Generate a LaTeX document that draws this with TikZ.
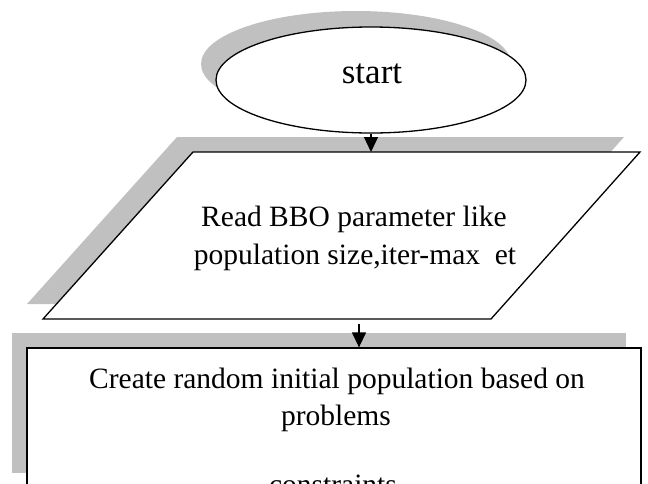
\documentclass[tikz,border=0pt]{standalone}
\usepackage{fontspec}
\setmainfont{Liberation Serif}
\usetikzlibrary{shapes.geometric,arrows.meta}
\definecolor{shadowgray}{RGB}{192,192,192}
\begin{document}
\begin{tikzpicture}[x=1pt,y=-1pt,
 line/.style={line width=1.3pt},
 shadowfill/.style={fill=shadowgray,draw=none},
 arr/.style={line width=1.3pt,-{Triangle[length=15pt,width=14pt]}},
 body/.style={font=\fontsize{29.5}{34}\selectfont, inner sep=0pt, anchor=base},
 ovalshape/.style={ellipse, minimum width=310pt, minimum height=106pt, inner sep=0pt},
 boxshape/.style={rectangle, minimum width=614pt, minimum height=140pt, inner sep=0pt},
]
\clip (0,0) rectangle (648,483);
% start ellipse
\node[ovalshape, shadowfill] (startsh) at (356,64) {};
\node[ovalshape, fill=white, draw, line] (start) at (371,80) {};
\node[font=\fontsize{35}{40}\selectfont, anchor=base, inner sep=0pt] (starttxt) at (372,83) {start};
% parallelogram
\coordinate (pTL) at (193,152);
\coordinate (pTR) at (640,152);
\coordinate (pBR) at (491,319);
\coordinate (pBL) at (43,319);
\fill[shadowgray] ([shift={(-16,-15)}]pTL) -- ([shift={(-16,-15)}]pTR) -- ([shift={(-16,-15)}]pBR) -- ([shift={(-16,-15)}]pBL) -- cycle;
\filldraw[fill=white, draw=black, line, line join=miter] (pTL) -- (pTR) -- (pBR) -- (pBL) -- cycle;
\node[body] (read1) at (354,226) {Read BBO parameter like};
\node[body] (read2) at (355,264) {population size,iter-max\ \ et};
% rectangle
\node[boxshape, shadowfill] (createsh) at (319,403) {};
\node[boxshape, fill=white, draw, line] (create) at (334,418) {};
\node[body] (create1) at (337,388) {Create random initial population based on};
\node[body] (create2) at (336,425) {problems};
\node[body] (create3) at (333,494) {constraints};
% connectors
\draw[arr] (start.south) -- (start.south |- pTL);
\coordinate (pgap) at (359,324);
\draw[arr] (pgap) -- (pgap |- create.north);
\end{tikzpicture}
\end{document}
